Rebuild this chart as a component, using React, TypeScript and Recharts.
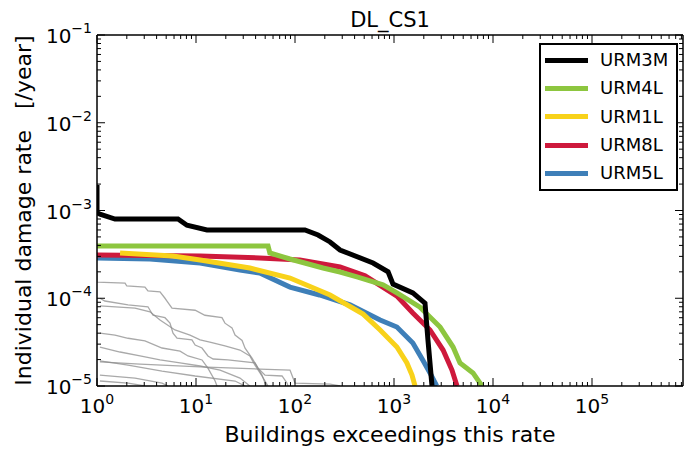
import React from 'react';
import { LineChart, Line, XAxis, YAxis } from 'recharts';

const FONT = '"DejaVu Sans", Verdana, sans-serif';

// axis ticks (decades)
const xMajorTicks = [1, 10, 100, 1000, 10000, 100000];
const yMajorTicks = [1e-5, 1e-4, 1e-3, 1e-2, 1e-1];
const X_MAX = 8.3e5;

// [buildings exceeding, individual damage rate /year]
const urm3m: [number, number][] = [
  [1, 1.95e-3], [1, 9.4e-4], [1.07, 9.1e-4], [1.52, 8.0e-4], [6.58, 8.0e-4], [8.1, 6.8e-4],
  [12.9, 6.0e-4], [126, 6.0e-4], [171, 5.26e-4], [226, 4.38e-4], [285, 3.55e-4], [614, 2.52e-4],
  [871, 2.0e-4], [977, 1.45e-4], [1550, 1.15e-4], [2056, 8.8e-5], [2205, 3.3e-5], [2420, 1.0e-5],
];
const urm4l: [number, number][] = [
  [1, 3.94e-4], [53.4, 3.94e-4], [55.7, 3.28e-4], [89, 2.8e-4], [192, 2.21e-4], [285, 1.99e-4],
  [423, 1.75e-4], [774, 1.42e-4], [1070, 1.15e-4], [1830, 7.9e-5], [2920, 4.7e-5], [3950, 2.78e-5],
  [4640, 1.83e-5], [6280, 1.41e-5], [7740, 1.0e-5],
];
const urm1l: [number, number][] = [
  [1.71, 3.28e-4], [5.86, 3.03e-4], [11, 2.73e-4], [35, 2.21e-4], [89, 1.7e-4], [226, 1.09e-4],
  [488, 6.6e-5], [724, 4.35e-5], [1070, 2.78e-5], [1350, 1.83e-5], [1520, 1.33e-5], [1630, 1.0e-5],
];
const urm8l: [number, number][] = [
  [1, 3.11e-4], [11, 3.03e-4], [44, 2.88e-4], [112, 2.73e-4], [285, 2.27e-4], [510, 1.8e-4],
  [1070, 1.06e-4], [1550, 6.8e-5], [2310, 4.35e-5], [3130, 2.57e-5], [3850, 1.52e-5], [4330, 1.0e-5],
];
const urm5l: [number, number][] = [
  [1, 2.88e-4], [3.43, 2.8e-4], [11, 2.52e-4], [27.8, 2.1e-4], [44, 1.94e-4], [89, 1.34e-4],
  [177, 1.09e-4], [360, 8.4e-5], [724, 5.65e-5], [1070, 4.7e-5], [1550, 3.09e-5], [1950, 1.98e-5],
  [2310, 1.41e-5], [2700, 1.0e-5],
];

// other typologies (thin grey)
const gray1: [number, number][] = [
  [1, 1.94e-4], [1, 1.53e-4], [1.92, 1.49e-4], [2.0, 1.38e-4], [3.05, 1.34e-4], [3.27, 1.21e-4],
  [4.33, 1.18e-4], [4.86, 1.0e-4], [5.09, 9.3e-5], [5.72, 7.7e-5], [9.8, 7.3e-5], [12.3, 6.4e-5],
  [18.3, 6.0e-5], [19.6, 5.2e-5], [23.1, 4.6e-5], [24.8, 3.8e-5], [29.2, 3.3e-5], [31.3, 2.7e-5],
  [36.8, 2.08e-5], [42.3, 1.6e-5], [49.8, 1.33e-5], [74, 1.3e-5], [83, 1.08e-5], [85, 1.0e-5],
];
const gray2: [number, number][] = [
  [1.07, 1.0e-4], [1.2, 9.3e-5], [2.06, 8.4e-5], [3.27, 8.0e-5], [3.68, 6.4e-5], [4.86, 6.0e-5],
  [5.46, 5.2e-5], [5.86, 4.0e-5], [6.43, 3.5e-5], [9.1, 3.35e-5], [9.8, 2.93e-5], [11.5, 2.71e-5],
  [13.2, 2.2e-5], [14.9, 2.03e-5], [21, 1.98e-5], [39.4, 1.83e-5], [42.3, 1.6e-5], [46.4, 1.33e-5],
  [49.8, 1.08e-5], [52.1, 1.0e-5],
];
const gray3: [number, number][] = [
  [1.07, 8.2e-5], [2.42, 7.7e-5], [3.43, 7.0e-5], [4.33, 5.65e-5], [6.13, 4.35e-5], [8.7, 3.8e-5],
  [11, 3.35e-5], [13.8, 3.17e-5], [19.6, 2.86e-5], [27.8, 2.57e-5], [35, 2.2e-5], [39.4, 1.73e-5],
  [46.4, 1.3e-5], [53.4, 1.0e-5],
];
const gray4: [number, number][] = [
  [1.07, 4.0e-5], [1.52, 3.8e-5], [2.06, 3.5e-5], [3.05, 3.26e-5], [4.54, 2.71e-5], [6.9, 2.5e-5],
  [8.3, 2.2e-5], [11.5, 1.98e-5], [13.2, 1.6e-5], [15.6, 1.14e-5], [16.3, 1.0e-5],
];
const gray5: [number, number][] = [
  [1.07, 2.78e-5], [1.71, 2.44e-5], [2.72, 2.2e-5], [4.33, 1.98e-5], [6.9, 1.83e-5], [11, 1.69e-5],
  [17.5, 1.52e-5], [27.8, 1.23e-5], [35, 1.0e-5],
];
const gray6: [number, number][] = [
  [1.07, 1.88e-5], [2.72, 1.78e-5], [11, 1.65e-5], [44.3, 1.56e-5], [89, 1.52e-5], [100, 1.08e-5],
  [226, 1.05e-5], [285, 1.0e-5],
];
const gray7: [number, number][] = [
  [1.07, 1.93e-5], [2.06, 1.73e-5], [4.54, 1.48e-5], [9.8, 1.3e-5], [24.8, 1.14e-5], [31.3, 1.0e-5],
];
const gray8: [number, number][] = [[1.07, 1.33e-5], [2.42, 1.23e-5], [4.54, 1.08e-5], [5.21, 1.0e-5]];
const gray9: [number, number][] = [[1.07, 1.14e-5], [2.06, 1.08e-5], [3.05, 1.0e-5]];

const grayLines = [gray1, gray2, gray3, gray4, gray5, gray6, gray7, gray8, gray9];

const series = [
  { name: 'URM3M', color: '#000000', points: urm3m },
  { name: 'URM4L', color: '#8dc63f', points: urm4l },
  { name: 'URM1L', color: '#f8d21a', points: urm1l },
  { name: 'URM8L', color: '#ce193c', points: urm8l },
  { name: 'URM5L', color: '#3e7fb8', points: urm5l },
];
// draw order (last on top)
const drawOrder = ['URM5L', 'URM8L', 'URM1L', 'URM4L', 'URM3M'];

const toRows = (pts: [number, number][]) => pts.map(([x, y]) => ({ x, y }));

const withMinors = (majors: number[], max: number) => {
  const out: number[] = [];
  majors.forEach((m) => {
    for (let k = 1; k <= 9; k++) {
      const v = k * m;
      if (v <= max * 1.0001) out.push(v);
    }
  });
  return out;
};
const xTicks = withMinors(xMajorTicks, X_MAX);
const yTicks = withMinors(yMajorTicks.slice(0, -1), 0.1).concat([0.1]);

const isMajor = (v: number) => Math.abs(Math.log10(v) - Math.round(Math.log10(v))) < 1e-6;
const expText = (v: number) => {
  const e = Math.round(Math.log10(v));
  return e < 0 ? '\u2212' + Math.abs(e) : String(e);
};

const BottomTick = (props: any) => {
  const { x, y, payload } = props;
  const major = isMajor(payload.value);
  return (
    <g>
      <line x1={x} x2={x} y1={y} y2={y - (major ? 8 : 4)} stroke="#000" strokeWidth={1} />
      {major && (
        <text x={x} y={y + 27} textAnchor="middle" fontFamily={FONT} fontSize={20} fill="#000">
          10<tspan dy={-9} fontSize={14}>{expText(payload.value)}</tspan>
        </text>
      )}
    </g>
  );
};

const TopTick = (props: any) => {
  const { x, y, payload } = props;
  const major = isMajor(payload.value);
  return <line x1={x} x2={x} y1={y} y2={y + (major ? 8 : 4)} stroke="#000" strokeWidth={1} />;
};

const LeftTick = (props: any) => {
  const { x, y, payload } = props;
  const major = isMajor(payload.value);
  return (
    <g>
      <line x1={x} x2={x + (major ? 8 : 4)} y1={y} y2={y} stroke="#000" strokeWidth={1} />
      {major && (
        <text x={x - 5} y={y + 8} textAnchor="end" fontFamily={FONT} fontSize={20} fill="#000">
          10<tspan dy={-10} fontSize={14}>{expText(payload.value)}</tspan>
        </text>
      )}
    </g>
  );
};

const RightTick = (props: any) => {
  const { x, y, payload } = props;
  const major = isMajor(payload.value);
  return <line x1={x} x2={x - (major ? 8 : 4)} y1={y} y2={y} stroke="#000" strokeWidth={1} />;
};

const TitleLabel = (props: any) => {
  const vb = props.viewBox || {};
  return (
    <text x={vb.x + vb.width / 2} y={27} textAnchor="middle" fontFamily={FONT} fontSize={21} fill="#000">
      DL_CS1
    </text>
  );
};

const XTitle = (props: any) => {
  const vb = props.viewBox || {};
  return (
    <text x={vb.x + vb.width / 2} y={vb.y + 56} textAnchor="middle" fontFamily={FONT} fontSize={22} fill="#000">
      Buildings exceedings this rate
    </text>
  );
};

const YTitle = (props: any) => {
  const vb = props.viewBox || {};
  const cy = vb.y + vb.height / 2;
  return (
    <text
      x={31}
      y={cy}
      transform={`rotate(-90, 31, ${cy})`}
      textAnchor="middle"
      fontFamily={FONT}
      fontSize={22}
      fill="#000"
      style={{ whiteSpace: 'pre' }}
    >
      {'Individual damage rate   [/year]'}
    </text>
  );
};

const LegendBox = () => (
  <div
    style={{
      position: 'absolute',
      left: 539,
      top: 43,
      width: 139,
      height: 148,
      boxSizing: 'border-box',
      border: '2px solid #000',
      background: '#fff',
      paddingTop: 1,
      fontFamily: FONT,
    }}
  >
    {series.map((s) => (
      <div key={s.name} style={{ display: 'flex', alignItems: 'center', height: 28.3 }}>
        <div style={{ width: 43, height: 5, background: s.color, marginLeft: 4 }} />
        <span style={{ marginLeft: 12, fontSize: 18, color: '#000', lineHeight: '18px' }}>{s.name}</span>
      </div>
    ))}
  </div>
);

export default function App() {
  return (
    <div style={{ position: 'absolute', left: 0, top: 0, width: 685, height: 454, background: '#fff' }}>
      <LineChart width={685} height={454} margin={{ top: 0, right: 0, bottom: 0, left: 0 }}>
        <XAxis
          xAxisId="bottom"
          type="number"
          dataKey="x"
          scale="log"
          domain={[1, X_MAX]}
          allowDataOverflow
          ticks={xTicks}
          interval={0}
          tickSize={0}
          tickMargin={0}
          tick={<BottomTick />}
          height={68}
          axisLine={{ stroke: '#000', strokeWidth: 1.5 }}
          label={<XTitle />}
        />
        <XAxis
          xAxisId="top"
          orientation="top"
          type="number"
          dataKey="x"
          scale="log"
          domain={[1, X_MAX]}
          allowDataOverflow
          ticks={xTicks}
          interval={0}
          tickSize={0}
          tickMargin={0}
          tick={<TopTick />}
          height={35}
          axisLine={{ stroke: '#000', strokeWidth: 1.5 }}
          label={<TitleLabel />}
        />
        <YAxis
          yAxisId="left"
          type="number"
          scale="log"
          domain={[1e-5, 0.1]}
          allowDataOverflow
          ticks={yTicks}
          interval={0}
          tickSize={0}
          tickMargin={0}
          tick={<LeftTick />}
          width={97}
          axisLine={{ stroke: '#000', strokeWidth: 1.5 }}
          label={<YTitle />}
        />
        <YAxis
          yAxisId="right"
          orientation="right"
          type="number"
          scale="log"
          domain={[1e-5, 0.1]}
          allowDataOverflow
          ticks={yTicks}
          interval={0}
          tickSize={0}
          tickMargin={0}
          tick={<RightTick />}
          width={2}
          axisLine={{ stroke: '#000', strokeWidth: 1.5 }}
        />
        {grayLines.map((g, i) => (
          <Line
            key={'g' + i}
            xAxisId="bottom"
            yAxisId="left"
            data={toRows(g)}
            dataKey="y"
            type="linear"
            stroke="#8c8c8c"
            strokeOpacity={0.75}
            strokeWidth={1.3}
            dot={false}
            legendType="none"
            isAnimationActive={false}
          />
        ))}
        {drawOrder.map((name) => {
          const s = series.find((d) => d.name === name)!;
          return (
            <Line
              key={s.name}
              name={s.name}
              xAxisId="bottom"
              yAxisId="left"
              data={toRows(s.points)}
              dataKey="y"
              type="linear"
              stroke={s.color}
              strokeWidth={5}
              dot={false}
              isAnimationActive={false}
            />
          );
        })}
      </LineChart>
      <LegendBox />
    </div>
  );
}
